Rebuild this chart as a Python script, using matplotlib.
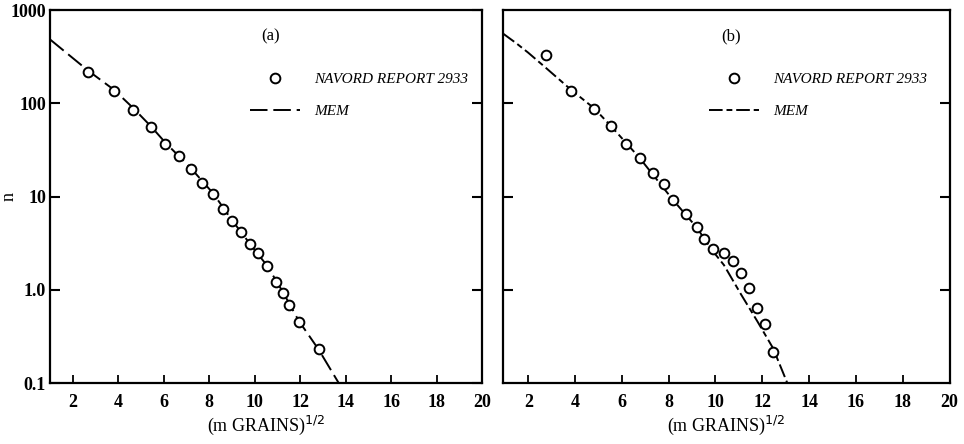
import matplotlib.pyplot as plt
from matplotlib.ticker import FixedLocator, FixedFormatter

plt.rcParams['font.family'] = ['Liberation Serif', 'DejaVu Serif']

# panel (a) data
a_x = [2.67, 3.81, 4.64, 5.43, 6.07, 6.67, 7.21, 7.66, 8.18, 8.59,
       9.0, 9.39, 9.8, 10.13, 10.56, 10.92, 11.24, 11.53, 11.93, 12.81]
a_n = [218, 137, 86, 56, 36.6, 27.5, 19.6, 14.1, 10.7, 7.3,
       5.53, 4.2, 3.08, 2.47, 1.82, 1.21, 0.92, 0.686, 0.458, 0.233]
a_mem_x = [1.0, 2.67, 3.81, 4.64, 5.43, 6.07, 7.21, 8.18, 9.0, 9.8,
           10.56, 11.24, 11.93, 12.81, 13.7]
a_mem_n = [485, 225, 140, 90, 57, 38, 20, 10.8, 5.6, 3.1,
           1.8, 0.95, 0.47, 0.23, 0.1]

# panel (b) data
b_x = [2.76, 3.83, 4.81, 5.54, 6.17, 6.76, 7.31, 7.79, 8.19, 8.74,
       9.19, 9.53, 9.89, 10.36, 10.74, 11.11, 11.44, 11.79, 12.1, 12.46]
b_n = [330, 137, 88, 57.7, 36.6, 25.8, 17.8, 13.6, 9.2, 6.5,
       4.7, 3.5, 2.75, 2.47, 2.05, 1.53, 1.04, 0.64, 0.435, 0.218]
b_mem_x = [0.93, 1.5, 2.0, 2.76, 3.83, 4.81, 5.54, 6.76, 8.19, 9.19, 9.89,
           10.36, 11.11, 11.79, 12.46, 13.07]
b_mem_n = [560, 440, 350, 240, 140, 89, 57, 26, 9.2, 4.7, 2.6,
           1.85, 0.88, 0.46, 0.237, 0.1]

x_ticks = [2, 4, 6, 8, 10, 12, 14, 16, 18, 20]
y_ticks = [0.1, 1.0, 10, 100, 1000]
y_labels = ['0.1', '1.0', '10', '100', '1000']

fig = plt.figure(figsize=(9.64, 4.44), dpi=100)
ax_a = fig.add_axes([0.052, 0.137, 0.448, 0.840])
ax_b = fig.add_axes([0.522, 0.137, 0.463, 0.840])

panels = [
    (ax_a, a_x, a_n, a_mem_x, a_mem_n, (1.0, 20), '(a)', (0, (9, 3))),
    (ax_b, b_x, b_n, b_mem_x, b_mem_n, (0.93, 20), '(b)', (0, (7, 2, 3, 2))),
]

for ax, px, pn, mx, mn, xl, tag, dash in panels:
    ax.plot(mx, mn, color='black', lw=1.4, linestyle=dash, label='MEM')
    ax.plot(px, pn, 'o', ms=7, mfc='white', mec='black', mew=1.4,
            label='NAVORD REPORT 2933', zorder=3)
    ax.set_yscale('log')
    ax.set_xlim(*xl)
    ax.set_ylim(0.1, 1000)
    ax.xaxis.set_major_locator(FixedLocator(x_ticks))
    ax.yaxis.set_major_locator(FixedLocator([1.0, 10, 100]))
    ax.yaxis.set_minor_locator(FixedLocator([]))
    ax.tick_params(axis='x', direction='in', length=6, width=1.3,
                   labelsize=13, pad=8)
    ax.tick_params(axis='y', direction='in', length=7, width=1.5,
                   right=True, labelleft=False)
    for lab in ax.get_xticklabels():
        lab.set_fontweight('bold')
    for sp in ax.spines.values():
        sp.set_linewidth(1.6)
    ax.set_xlabel('(m GRAINS)$^{1/2}$', fontsize=13, labelpad=2)
    ax.text(0.51, 0.93, tag, transform=ax.transAxes, fontsize=12,
            ha='center', va='center')
    h, l = ax.get_legend_handles_labels()
    ax.legend(h[::-1], l[::-1], loc='upper left', bbox_to_anchor=(0.43, 0.87),
              frameon=False, handlelength=3.3, handletextpad=0.9,
              labelspacing=1.2, prop={'style': 'italic', 'size': 11})

ax_a.yaxis.set_major_locator(FixedLocator(y_ticks))
ax_a.yaxis.set_major_formatter(FixedFormatter(y_labels))
ax_a.tick_params(axis='y', labelleft=True, labelsize=13, pad=3)
for lab in ax_a.get_yticklabels():
    lab.set_fontweight('bold')
ax_a.set_ylabel('n', fontsize=13)
ax_a.yaxis.set_label_coords(-0.075, 0.5)

fig.savefig('out.png', dpi=100)
